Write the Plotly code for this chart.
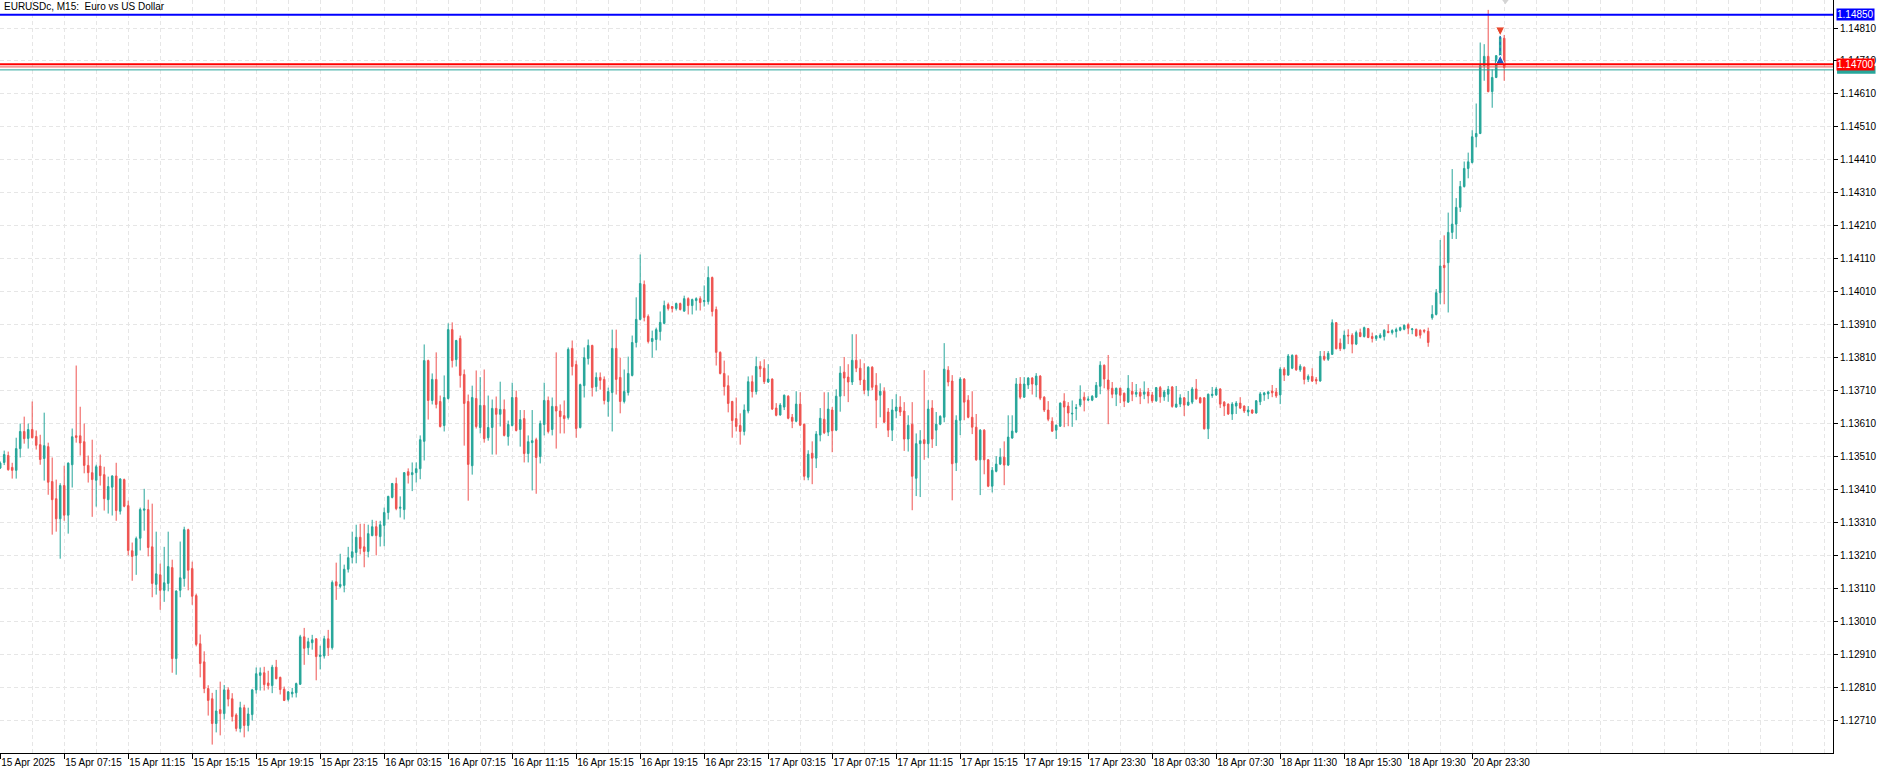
import plotly.graph_objects as go

# ---------------- data (EURUSDc M15 bars) ----------------
open_ = [
1.13475,1.13492,1.13513,1.13477,1.13468,1.13534,1.13586,1.13565,1.13592,1.13571,
1.13546,1.13504,1.13540,1.13434,1.13382,1.13321,1.13422,1.13332,1.13485,1.13573,
1.13573,1.13555,1.13483,1.13461,1.13438,1.13481,1.13455,1.13379,1.13417,1.13451,
1.13344,1.13440,1.13361,1.13224,1.13210,1.13262,1.13347,1.13349,1.13236,1.13122,
1.13151,1.13104,1.13125,1.13173,1.12897,1.13104,1.13140,1.13288,1.13170,1.13088,
1.12942,1.12887,1.12806,1.12775,1.12700,1.12742,1.12730,1.12802,1.12775,1.12726,
1.12685,1.12748,1.12694,1.12727,1.12802,1.12846,1.12854,1.12823,1.12815,1.12871,
1.12840,1.12804,1.12773,1.12790,1.12793,1.12819,1.12963,1.12930,1.12945,1.12957,
1.12903,1.12905,1.12957,1.12930,1.13130,1.13116,1.13119,1.13168,1.13204,1.13219,
1.13265,1.13236,1.13222,1.13270,1.13297,1.13267,1.13301,1.13340,1.13386,1.13428,
1.13353,1.13349,1.13464,1.13455,1.13461,1.13473,1.13556,1.13801,1.13680,1.13744,
1.13677,1.13604,1.13686,1.13895,1.13804,1.13868,1.13759,1.13677,1.13482,1.13686,
1.13598,1.13665,1.13567,1.13598,1.13656,1.13638,1.13653,1.13571,1.13604,1.13689,
1.13592,1.13625,1.13519,1.13552,1.13561,1.13510,1.13607,1.13680,1.13592,1.13662,
1.13648,1.13634,1.13628,1.13838,1.13789,1.13598,1.13725,1.13807,1.13847,1.13722,
1.13750,1.13744,1.13677,1.13704,1.13838,1.13750,1.13677,1.13704,1.13756,1.13856,
1.13926,1.14032,1.13935,1.13859,1.13865,1.13889,1.13914,1.13971,1.13965,1.13959,
1.13974,1.13951,1.13989,1.13968,1.13983,1.13989,1.13980,1.13980,1.14053,1.13956,
1.13826,1.13762,1.13725,1.13677,1.13625,1.13604,1.13586,1.13648,1.13737,1.13707,
1.13784,1.13778,1.13736,1.13745,1.13657,1.13636,1.13660,1.13693,1.13629,1.13617,
1.13669,1.13608,1.13447,1.13520,1.13505,1.13575,1.13623,1.13584,1.13651,1.13590,
1.13693,1.13766,1.13751,1.13736,1.13802,1.13778,1.13742,1.13711,1.13781,1.13726,
1.13696,1.13708,1.13645,1.13590,1.13648,1.13660,1.13648,1.13563,1.13608,1.13444,
1.13549,1.13561,1.13549,1.13657,1.13590,1.13608,1.13629,1.13772,1.13739,1.13491,
1.13620,1.13745,1.13681,1.13629,1.13599,1.13500,1.13590,1.13500,1.13420,1.13465,
1.13487,1.13508,1.13484,1.13566,1.13584,1.13730,1.13690,1.13727,1.13748,1.13727,
1.13754,1.13690,1.13651,1.13617,1.13590,1.13602,1.13678,1.13663,1.13639,1.13656,
1.13666,1.13690,1.13681,1.13681,1.13690,1.13723,1.13787,1.13742,1.13717,1.13699,
1.13717,1.13702,1.13675,1.13708,1.13699,1.13705,1.13699,1.13706,1.13697,1.13679,
1.13719,1.13691,1.13699,1.13721,1.13660,1.13669,1.13688,1.13666,1.13675,1.13715,
1.13688,1.13688,1.13594,1.13695,1.13697,1.13715,1.13675,1.13669,1.13639,1.13663,
1.13672,1.13663,1.13645,1.13651,1.13642,1.13676,1.13697,1.13700,1.13709,1.13706,
1.13697,1.13775,1.13757,1.13778,1.13817,1.13773,1.13781,1.13744,1.13753,1.13744,
1.13739,1.13814,1.13805,1.13820,1.13916,1.13854,1.13837,1.13878,1.13878,1.13851,
1.13886,1.13874,1.13898,1.13874,1.13868,1.13871,1.13874,1.13890,1.13886,1.13889,
1.13893,1.13896,1.13910,1.13895,1.13896,1.13893,1.13893,1.13890,1.13931,1.13941,
1.14007,1.14090,1.14098,1.14190,1.14215,1.14266,1.14329,1.14384,1.14402,1.14480,
1.14490,1.14696,1.14724,1.14617,1.14660,1.14726,1.14779]

high = [
1.13495,1.13528,1.13525,1.13491,1.13567,1.13610,1.13631,1.13610,1.13677,1.13589,
1.13576,1.13643,1.13552,1.13507,1.13440,1.13429,1.13482,1.13492,1.13595,1.13786,
1.13661,1.13610,1.13513,1.13561,1.13485,1.13516,1.13479,1.13449,1.13453,1.13491,
1.13444,1.13443,1.13376,1.13249,1.13267,1.13355,1.13412,1.13379,1.13367,1.13282,
1.13185,1.13236,1.13282,1.13197,1.13104,1.13252,1.13297,1.13291,1.13191,1.13094,
1.12970,1.12919,1.12816,1.12793,1.12802,1.12827,1.12817,1.12810,1.12792,1.12731,
1.12766,1.12757,1.12748,1.12805,1.12870,1.12870,1.12872,1.12860,1.12878,1.12893,
1.12842,1.12812,1.12799,1.12808,1.12824,1.12969,1.12990,1.12960,1.12969,1.12959,
1.12936,1.12966,1.12984,1.13134,1.13188,1.13215,1.13182,1.13236,1.13282,1.13303,
1.13306,1.13306,1.13303,1.13318,1.13315,1.13315,1.13355,1.13391,1.13430,1.13446,
1.13389,1.13463,1.13474,1.13492,1.13492,1.13574,1.13850,1.13804,1.13762,1.13826,
1.13695,1.13756,1.13914,1.13917,1.13864,1.13877,1.13774,1.13698,1.13725,1.13771,
1.13751,1.13774,1.13695,1.13683,1.13692,1.13737,1.13683,1.13619,1.13734,1.13710,
1.13651,1.13651,1.13574,1.13651,1.13567,1.13619,1.13734,1.13692,1.13689,1.13826,
1.13668,1.13680,1.13841,1.13862,1.13801,1.13731,1.13841,1.13865,1.13849,1.13765,
1.13765,1.13753,1.13719,1.13895,1.13895,1.13810,1.13774,1.13813,1.13877,1.13993,
1.14123,1.14044,1.13941,1.13892,1.13901,1.13950,1.13983,1.13977,1.13967,1.13977,
1.13977,1.13998,1.13993,1.13989,1.13993,1.13996,1.14029,1.14087,1.14056,1.13965,
1.13829,1.13801,1.13756,1.13679,1.13689,1.13641,1.13668,1.13753,1.13756,1.13813,
1.13799,1.13805,1.13790,1.13747,1.13672,1.13672,1.13698,1.13696,1.13639,1.13708,
1.13705,1.13610,1.13529,1.13556,1.13587,1.13657,1.13705,1.13705,1.13660,1.13714,
1.13784,1.13812,1.13790,1.13881,1.13881,1.13805,1.13793,1.13784,1.13784,1.13763,
1.13732,1.13720,1.13657,1.13684,1.13699,1.13693,1.13675,1.13635,1.13675,1.13580,
1.13590,1.13772,1.13681,1.13681,1.13645,1.13635,1.13854,1.13784,1.13757,1.13635,
1.13751,1.13748,1.13696,1.13708,1.13639,1.13593,1.13593,1.13502,1.13478,1.13511,
1.13535,1.13556,1.13635,1.13635,1.13748,1.13751,1.13751,1.13751,1.13751,1.13763,
1.13757,1.13693,1.13678,1.13629,1.13607,1.13674,1.13702,1.13675,1.13680,1.13669,
1.13726,1.13705,1.13693,1.13696,1.13736,1.13799,1.13789,1.13818,1.13736,1.13719,
1.13719,1.13704,1.13757,1.13736,1.13730,1.13717,1.13738,1.13718,1.13706,1.13721,
1.13724,1.13712,1.13724,1.13724,1.13724,1.13699,1.13691,1.13709,1.13721,1.13745,
1.13691,1.13690,1.13701,1.13721,1.13721,1.13717,1.13678,1.13671,1.13675,1.13678,
1.13690,1.13665,1.13663,1.13653,1.13681,1.13706,1.13706,1.13708,1.13727,1.13718,
1.13781,1.13781,1.13821,1.13820,1.13819,1.13790,1.13783,1.13759,1.13778,1.13751,
1.13830,1.13830,1.13830,1.13926,1.13918,1.13868,1.13892,1.13896,1.13884,1.13892,
1.13898,1.13904,1.13900,1.13886,1.13878,1.13884,1.13896,1.13911,1.13896,1.13901,
1.13904,1.13911,1.13914,1.13900,1.13898,1.13896,1.13896,1.13901,1.13969,1.14018,
1.14167,1.14181,1.14250,1.14382,1.14294,1.14346,1.14405,1.14432,1.14500,1.14581,
1.14766,1.14761,1.14865,1.14685,1.14728,1.14787,1.14789]

low = [
1.13472,1.13484,1.13467,1.13443,1.13443,1.13507,1.13549,1.13534,1.13565,1.13531,
1.13485,1.13437,1.13394,1.13273,1.13282,1.13200,1.13315,1.13276,1.13416,1.13552,
1.13513,1.13459,1.13431,1.13327,1.13358,1.13422,1.13346,1.13337,1.13331,1.13315,
1.13334,1.13356,1.13210,1.13133,1.13151,1.13225,1.13285,1.13207,1.13083,1.13091,
1.13045,1.13069,1.13101,1.12854,1.12848,1.13083,1.13115,1.13104,1.13060,1.12934,
1.12840,1.12792,1.12724,1.12636,1.12673,1.12664,1.12712,1.12752,1.12706,1.12676,
1.12673,1.12658,1.12676,1.12709,1.12791,1.12800,1.12800,1.12803,1.12792,1.12834,
1.12788,1.12768,1.12767,1.12779,1.12779,1.12817,1.12878,1.12908,1.12924,1.12831,
1.12864,1.12897,1.12905,1.12924,1.13075,1.13110,1.13098,1.13158,1.13186,1.13186,
1.13213,1.13174,1.13204,1.13268,1.13210,1.13237,1.13238,1.13319,1.13383,1.13347,
1.13325,1.13319,1.13428,1.13405,1.13431,1.13441,1.13498,1.13622,1.13668,1.13656,
1.13598,1.13586,1.13683,1.13780,1.13783,1.13719,1.13543,1.13376,1.13455,1.13595,
1.13580,1.13552,1.13558,1.13516,1.13516,1.13601,1.13571,1.13543,1.13601,1.13586,
1.13540,1.13492,1.13492,1.13407,1.13397,1.13489,1.13574,1.13580,1.13574,1.13534,
1.13580,1.13580,1.13622,1.13756,1.13567,1.13595,1.13689,1.13789,1.13692,1.13707,
1.13713,1.13668,1.13631,1.13586,1.13698,1.13641,1.13671,1.13695,1.13753,1.13841,
1.13923,1.13920,1.13853,1.13810,1.13832,1.13862,1.13911,1.13953,1.13947,1.13953,
1.13953,1.13950,1.13941,1.13941,1.13953,1.13953,1.13965,1.13971,1.13935,1.13786,
1.13759,1.13695,1.13644,1.13567,1.13586,1.13546,1.13574,1.13641,1.13689,1.13698,
1.13751,1.13730,1.13733,1.13651,1.13632,1.13634,1.13651,1.13623,1.13596,1.13614,
1.13602,1.13438,1.13438,1.13426,1.13475,1.13556,1.13578,1.13572,1.13523,1.13587,
1.13646,1.13693,1.13675,1.13727,1.13766,1.13727,1.13699,1.13693,1.13711,1.13596,
1.13629,1.13612,1.13569,1.13557,1.13626,1.13633,1.13527,1.13525,1.13347,1.13390,
1.13387,1.13500,1.13506,1.13536,1.13542,1.13605,1.13614,1.13723,1.13377,1.13466,
1.13575,1.13620,1.13626,1.13578,1.13497,1.13393,1.13456,1.13417,1.13401,1.13462,
1.13484,1.13423,1.13481,1.13564,1.13581,1.13684,1.13688,1.13715,1.13698,1.13690,
1.13681,1.13645,1.13617,1.13585,1.13563,1.13600,1.13599,1.13602,1.13600,1.13620,
1.13660,1.13647,1.13678,1.13678,1.13688,1.13699,1.13717,1.13608,1.13687,1.13663,
1.13672,1.13660,1.13673,1.13678,1.13690,1.13669,1.13684,1.13671,1.13673,1.13676,
1.13673,1.13679,1.13676,1.13658,1.13658,1.13660,1.13633,1.13663,1.13669,1.13682,
1.13671,1.13592,1.13563,1.13688,1.13694,1.13657,1.13633,1.13636,1.13621,1.13639,
1.13654,1.13642,1.13633,1.13639,1.13640,1.13666,1.13679,1.13684,1.13690,1.13688,
1.13669,1.13739,1.13755,1.13775,1.13770,1.13767,1.13729,1.13736,1.13736,1.13729,
1.13737,1.13800,1.13800,1.13818,1.13835,1.13830,1.13835,1.13851,1.13823,1.13848,
1.13872,1.13871,1.13869,1.13856,1.13861,1.13868,1.13862,1.13884,1.13880,1.13871,
1.13890,1.13893,1.13881,1.13881,1.13874,1.13868,1.13884,1.13843,1.13925,1.13938,
1.13972,1.13972,1.13947,1.14170,1.14170,1.14252,1.14326,1.14354,1.14399,1.14448,
1.14488,1.14650,1.14615,1.14568,1.14658,1.14716,1.14650]

close = [
1.13490,1.13516,1.13470,1.13468,1.13534,1.13586,1.13564,1.13592,1.13567,1.13544,
1.13501,1.13543,1.13432,1.13379,1.13321,1.13422,1.13332,1.13490,1.13570,1.13568,
1.13551,1.13483,1.13461,1.13440,1.13479,1.13452,1.13382,1.13419,1.13451,1.13346,
1.13442,1.13359,1.13225,1.13207,1.13261,1.13349,1.13351,1.13234,1.13125,1.13154,
1.13104,1.13127,1.13176,1.12897,1.13102,1.13142,1.13288,1.13165,1.13086,1.12940,
1.12882,1.12806,1.12770,1.12700,1.12738,1.12730,1.12802,1.12774,1.12721,1.12685,
1.12748,1.12694,1.12729,1.12802,1.12851,1.12854,1.12818,1.12815,1.12871,1.12836,
1.12803,1.12770,1.12796,1.12795,1.12821,1.12963,1.12928,1.12948,1.12954,1.12903,
1.12908,1.12957,1.12930,1.13128,1.13118,1.13122,1.13168,1.13203,1.13221,1.13265,
1.13231,1.13222,1.13276,1.13297,1.13270,1.13303,1.13340,1.13389,1.13428,1.13352,
1.13356,1.13461,1.13453,1.13461,1.13473,1.13561,1.13801,1.13680,1.13744,1.13668,
1.13601,1.13689,1.13895,1.13801,1.13862,1.13756,1.13671,1.13486,1.13689,1.13601,
1.13665,1.13564,1.13598,1.13656,1.13638,1.13653,1.13574,1.13607,1.13689,1.13589,
1.13622,1.13519,1.13555,1.13558,1.13507,1.13610,1.13680,1.13586,1.13662,1.13648,
1.13631,1.13625,1.13835,1.13783,1.13595,1.13728,1.13810,1.13847,1.13719,1.13750,
1.13741,1.13680,1.13707,1.13838,1.13744,1.13677,1.13707,1.13762,1.13856,1.13926,
1.14035,1.13932,1.13859,1.13868,1.13895,1.13917,1.13968,1.13959,1.13959,1.13974,
1.13956,1.13989,1.13968,1.13986,1.13989,1.13977,1.13983,1.14053,1.13950,1.13826,
1.13762,1.13722,1.13671,1.13619,1.13601,1.13586,1.13651,1.13737,1.13707,1.13783,
1.13776,1.13737,1.13745,1.13654,1.13635,1.13666,1.13696,1.13626,1.13617,1.13669,
1.13605,1.13450,1.13517,1.13505,1.13578,1.13626,1.13582,1.13654,1.13588,1.13693,
1.13763,1.13748,1.13736,1.13802,1.13778,1.13742,1.13711,1.13781,1.13720,1.13681,
1.13708,1.13614,1.13590,1.13651,1.13660,1.13645,1.13563,1.13605,1.13450,1.13549,
1.13558,1.13549,1.13654,1.13563,1.13608,1.13632,1.13775,1.13736,1.13488,1.13620,
1.13745,1.13675,1.13629,1.13599,1.13500,1.13590,1.13500,1.13420,1.13468,1.13487,
1.13508,1.13484,1.13569,1.13587,1.13730,1.13690,1.13730,1.13748,1.13730,1.13754,
1.13687,1.13651,1.13623,1.13587,1.13605,1.13672,1.13660,1.13642,1.13641,1.13658,
1.13684,1.13681,1.13684,1.13693,1.13726,1.13787,1.13745,1.13714,1.13699,1.13717,
1.13696,1.13678,1.13717,1.13699,1.13705,1.13693,1.13706,1.13694,1.13679,1.13719,
1.13691,1.13706,1.13714,1.13662,1.13669,1.13688,1.13666,1.13675,1.13715,1.13685,
1.13673,1.13594,1.13699,1.13699,1.13715,1.13669,1.13663,1.13639,1.13669,1.13672,
1.13657,1.13648,1.13651,1.13642,1.13679,1.13700,1.13703,1.13706,1.13703,1.13694,
1.13775,1.13757,1.13815,1.13817,1.13773,1.13784,1.13744,1.13753,1.13739,1.13739,
1.13814,1.13805,1.13823,1.13916,1.13837,1.13837,1.13878,1.13876,1.13851,1.13886,
1.13874,1.13901,1.13871,1.13868,1.13876,1.13878,1.13893,1.13886,1.13892,1.13895,
1.13901,1.13908,1.13899,1.13897,1.13876,1.13878,1.13890,1.13856,1.13941,1.14007,
1.14088,1.14083,1.14190,1.14215,1.14266,1.14329,1.14384,1.14404,1.14480,1.14490,
1.14696,1.14724,1.14617,1.14660,1.14726,1.14782,1.14690]

tick_labels = ["15 Apr 2025", "15 Apr 07:15", "15 Apr 11:15", "15 Apr 15:15", "15 Apr 19:15",
               "15 Apr 23:15", "16 Apr 03:15", "16 Apr 07:15", "16 Apr 11:15", "16 Apr 15:15",
               "16 Apr 19:15", "16 Apr 23:15", "17 Apr 03:15", "17 Apr 07:15", "17 Apr 11:15",
               "17 Apr 15:15", "17 Apr 19:15", "17 Apr 23:30", "18 Apr 03:30", "18 Apr 07:30",
               "18 Apr 11:30", "18 Apr 15:30", "18 Apr 19:30", "20 Apr 23:30"]
bars_per_label = 16

level_blue = 1.14850     # horizontal line
level_red = 1.14700      # horizontal line
level_ask = 1.14692
level_bid = 1.14683
sell_arrow_price = 1.14786
buy_arrow_price = 1.14728
arrow_bar = 375

title_text = "EURUSDc, M15:\u00a0 Euro vs US Dollar"

# ---------------- figure ----------------
TEAL = "#26a69a"
RED = "#ef5350"
GRID = "#e6e6e6"
FONT = "Liberation Sans, Arial, sans-serif"
Y_MIN, Y_MAX = 1.126105, 1.14895

n = len(open_)
bar_index = list(range(n))

fig = go.Figure()
fig.add_trace(go.Candlestick(
    x=bar_index, open=open_, high=high, low=low, close=close,
    increasing=dict(line=dict(color=TEAL, width=1), fillcolor=TEAL),
    decreasing=dict(line=dict(color=RED, width=1), fillcolor=RED),
    whiskerwidth=0, hoverinfo="skip", showlegend=False,
))

# trade arrows
fig.add_trace(go.Scatter(
    x=[arrow_bar, arrow_bar], y=[sell_arrow_price, buy_arrow_price], mode="lines",
    line=dict(color="#1f5fbf", width=1, dash="dot"), hoverinfo="skip", showlegend=False))
fig.add_trace(go.Scatter(
    x=[arrow_bar], y=[sell_arrow_price], mode="markers",
    marker=dict(symbol="arrow-down", size=9, color="#e8472c", line=dict(color="white", width=1)),
    hoverinfo="skip", showlegend=False))
fig.add_trace(go.Scatter(
    x=[arrow_bar], y=[buy_arrow_price], mode="markers",
    marker=dict(symbol="arrow-up", size=9, color="#1f5fbf", line=dict(color="white", width=1)),
    hoverinfo="skip", showlegend=False))
# chart-shift marker at the top
fig.add_trace(go.Scatter(
    x=[n - 0.7], y=[Y_MAX - 0.00002], mode="markers", cliponaxis=False,
    marker=dict(symbol="triangle-down", size=7, color="#d4d4d4"),
    hoverinfo="skip", showlegend=False))

# horizontal level lines
fig.add_hline(y=level_bid, line=dict(color=TEAL, width=1))
fig.add_hline(y=level_ask, line=dict(color=RED, width=1))
fig.add_hline(y=level_red, line=dict(color="#ff0000", width=2))
fig.add_hline(y=level_blue, line=dict(color="#0000ff", width=2))

# bid box (mostly hidden under the red price box), drawn as a plain box
fig.add_shape(type="rect", xref="paper", yref="y", x0=1.0022, x1=1.0232,
              y0=level_bid - 0.00012, y1=level_bid + 0.00012,
              fillcolor=TEAL, line=dict(width=0), layer="above")

# price boxes on the right scale
for price, bg in [(level_red, "#ff0000"), (level_blue, "#0000ff")]:
    fig.add_annotation(x=1, xref="paper", y=price, yref="y", xanchor="left", yanchor="middle",
                       xshift=3, text=f"{price:.5f}", showarrow=False,
                       font=dict(family=FONT, size=10, color="white"),
                       bgcolor=bg, borderpad=0)

fig.add_annotation(x=0, xref="paper", y=1, yref="paper", xanchor="left", yanchor="top",
                   xshift=2, yshift=1, text=title_text, showarrow=False,
                   font=dict(family=FONT, size=10, color="black"))

fig.update_layout(
    width=1887, height=773,
    margin=dict(l=0, r=54, t=0, b=20),
    paper_bgcolor="white", plot_bgcolor="white",
    boxgap=0.45,
    showlegend=False,
    font=dict(family=FONT, size=10, color="black"),
    xaxis=dict(
        range=[-0.05, 458.2], rangeslider=dict(visible=False),
        tickmode="array",
        tickvals=[i * bars_per_label for i in range(len(tick_labels))],
        ticktext=tick_labels,
        tickangle=0,
        ticks="outside", ticklen=5, tickcolor="black",
        ticklabelposition="outside right",
        showline=True, linecolor="black", linewidth=1,
        showgrid=True, gridcolor=GRID, griddash="4px,3px",
        minor=dict(tick0=0, dtick=8, showgrid=True, gridcolor=GRID, griddash="4px,3px"),
        zeroline=False,
        tickfont=dict(family=FONT, size=10, color="black"),
    ),
    yaxis=dict(
        side="right", range=[Y_MIN, Y_MAX],
        tick0=1.12710, dtick=0.001, tickformat=".5f",
        ticks="outside", ticklen=4, tickcolor="black",
        showline=True, linecolor="black", linewidth=1, mirror=True,
        showgrid=True, gridcolor=GRID, griddash="4px,3px",
        zeroline=False,
        tickfont=dict(family=FONT, size=10, color="black"),
    ),
)

fig.write_html("out.html", config={"displayModeBar": False},
               post_script="document.body.style.margin='0';document.body.style.padding='0';")
